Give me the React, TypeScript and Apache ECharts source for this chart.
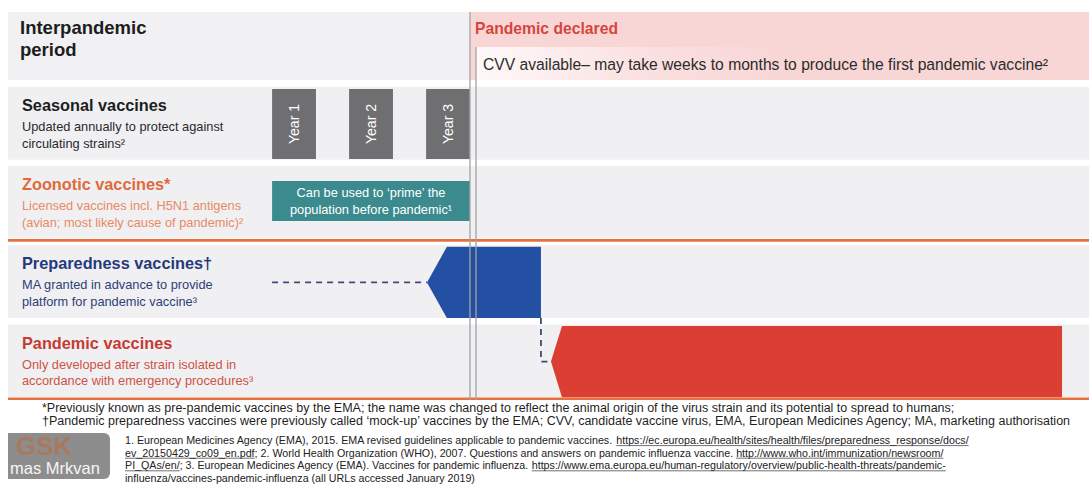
import React, { useEffect, useRef } from 'react';
import * as echarts from 'echarts';

// ---------------- data ----------------
const PHASE_LABELS = ['Interpandemic\nperiod', 'Pandemic declared'];
const CVV_NOTE = 'CVV available– may take weeks to months to produce the first pandemic vaccine²';
const ROW_CATEGORIES = ['Phase', 'Seasonal vaccines', 'Zoonotic vaccines*', 'Preparedness vaccines†', 'Pandemic vaccines'];
const ROW_NOTES = [
  [],
  ['Updated annually to protect against', 'circulating strains²'],
  ['Licensed vaccines incl. H5N1 antigens', '(avian; most likely cause of pandemic)²'],
  ['MA granted in advance to provide', 'platform for pandemic vaccine³'],
  ['Only developed after strain isolated in', 'accordance with emergency procedures³'],
];
// timeline, in years relative to the pandemic declaration (0)
const TIME_MIN = -6;
const TIME_MAX = 8.04;
const PANDEMIC_DECLARED = 0;
const CVV_AVAILABLE = 0.078;
const YEAR_LABELS = ['Year 1', 'Year 2', 'Year 3'];
const YEAR_START = [-2.57, -1.57, -0.57];
const YEAR_END = [-2.0, -1.0, 0];
const PRIME_WINDOW = [-2.57, 0];
const PRIME_TEXT = ['Can be used to ‘prime’ the', 'population before pandemic¹'];
const PREP_WAIT = [-2.57, -0.558];
const PREP_BAR = [-0.558, -0.3, 0.922]; // tip, shoulder, end
const PANDEMIC_BAR = [1.052, 1.195, 7.69]; // tip, shoulder, end
const DIVIDER_ROWS = [2, 4];
const FOOTNOTES = [
  '*Previously known as pre-pandemic vaccines by the EMA; the name was changed to reflect the animal origin of the virus strain and its potential to spread to humans;',
  '†Pandemic preparedness vaccines were previously called ‘mock-up’ vaccines by the EMA; CVV, candidate vaccine virus, EMA, European Medicines Agency; MA, marketing authorisation',
];
const REFERENCES: [string, boolean][][] = [
  [
    ['1. European Medicines Agency (EMA), 2015. EMA revised guidelines applicable to pandemic vaccines. ', false],
    ['https://ec.europa.eu/health/sites/health/files/preparedness_response/docs/', true],
  ],
  [
    ['ev_20150429_co09_en.pdf', true],
    ['; 2. World Health Organization (WHO), 2007. Questions and answers on pandemic influenza vaccine. ', false],
    ['http://www.who.int/immunization/newsroom/', true],
  ],
  [
    ['PI_QAs/en/', true],
    ['; 3. European Medicines Agency (EMA). Vaccines for pandemic influenza. ', false],
    ['https://www.ema.europa.eu/human-regulatory/overview/public-health-threats/pandemic-', true],
  ],
  [['influenza/vaccines-pandemic-influenza (all URLs accessed January 2019)', false]],
];
const LOGO_TEXT = 'GSK';
const PRESENTER = 'mas Mrkvan';

// ---------------- styles ----------------
const FONT = '"Liberation Sans", Arial, Helvetica, sans-serif';
const ROW_BG = '#f0f0f2';
const PINK = '#f9d6d6';
const ORANGE_LINE = '#e6713f';
const TITLE_COLORS = ['#1d1d1d', '#1d1d1d', '#e1693b', '#26397a', '#c63b31'];
const NOTE_COLORS = ['#2a2a2a', '#2a2a2a', '#e98a62', '#2e3f78', '#cf5246'];
const ARROW_COLORS: Record<number, string> = { 3: '#2450a4', 4: '#db3f34' };

function txt(text: string, x: number, y: number, size: number, fill: string, weight = 'normal', extra: any = {}) {
  return {
    type: 'text',
    x,
    y,
    style: { text, fill, fontSize: size, fontFamily: FONT, fontWeight: weight, align: 'left', verticalAlign: 'middle', ...extra },
  };
}

function measure(text: string, size: number) {
  const ctx = document.createElement('canvas').getContext('2d')!;
  ctx.font = `${size}px "Liberation Sans", Arial, sans-serif`;
  return ctx.measureText(text).width;
}

function buildOption() {
  const bgRender = (params: any, api: any) => {
    const row = api.value(0);
    const [x0, cy] = api.coord([TIME_MIN, row]);
    const x1 = api.coord([TIME_MAX, row])[0];
    const band = api.size([0, 1])[1];
    const children: any[] = [];
    if (row === 0) {
      const xd = api.coord([PANDEMIC_DECLARED, row])[0];
      const xc = api.coord([CVV_AVAILABLE, row])[0];
      const top = cy - 0.414 * band;
      const bot = cy + 0.444 * band;
      const mid = cy + 0.028 * band;
      children.push({ type: 'rect', shape: { x: x0, y: top, width: xd - x0, height: bot - top }, style: { fill: '#f1f1f3' } });
      children.push({ type: 'rect', shape: { x: xd, y: top, width: x1 - xd, height: bot - top }, style: { fill: PINK } });
      children.push({
        type: 'rect',
        shape: { x: xc, y: mid, width: x1 - xc, height: bot - mid },
        style: {
          fill: new echarts.graphic.LinearGradient(0, 0, 1, 0, [
            { offset: 0, color: 'rgba(255,255,255,0.85)' },
            { offset: 0.28, color: 'rgba(255,255,255,0.25)' },
            { offset: 0.5, color: 'rgba(255,255,255,0)' },
          ]),
        },
      });
      const lines = PHASE_LABELS[0].split('\n');
      lines.forEach((l, i) => children.push(txt(l, x0 + 12, top + 15 + i * 22, 18.5, TITLE_COLORS[0], 'bold')));
      children.push(txt(PHASE_LABELS[1], xd + 5, top + 16, 15.7, '#d6453d', 'bold'));
      children.push(txt(CVV_NOTE, xc + 7, mid + 17, 15.65, '#2b2b2b'));
    } else {
      const top = cy - 0.47 * band;
      const bot = cy + 0.45 * band;
      children.push({ type: 'rect', shape: { x: x0, y: top, width: x1 - x0, height: bot - top }, style: { fill: ROW_BG } });
      children.push(txt(ROW_CATEGORIES[row], x0 + 14, cy - 19, 16.3, TITLE_COLORS[row], 'bold'));
      ROW_NOTES[row].forEach((n, i) => children.push(txt(n, x0 + 14, cy + 2.5 + i * 16.5, 12.8, NOTE_COLORS[row])));
      if (DIVIDER_ROWS.indexOf(row) >= 0) {
        children.push({ type: 'rect', shape: { x: x0, y: cy + 0.47 * band - 1.3, width: x1 - x0, height: 2.6 }, style: { fill: ORANGE_LINE } });
      }
    }
    return { type: 'group', children };
  };

  const yearRender = (params: any, api: any) => {
    const row = api.value(0);
    const [xa, cy] = api.coord([api.value(1), row]);
    const xb = api.coord([api.value(2), row])[0];
    const band = api.size([0, 1])[1];
    const h = 0.442 * band;
    return {
      type: 'group',
      children: [
        { type: 'rect', shape: { x: xa, y: cy - h, width: xb - xa, height: 2 * h }, style: { fill: '#6f6f71' } },
        {
          type: 'text',
          x: (xa + xb) / 2,
          y: cy,
          rotation: Math.PI / 2,
          style: { text: YEAR_LABELS[api.value(3)], fill: '#ffffff', fontSize: 14, fontFamily: FONT, align: 'center', verticalAlign: 'middle' },
        },
      ],
    };
  };

  const primeRender = (params: any, api: any) => {
    const row = api.value(0);
    const [xa, cy] = api.coord([api.value(1), row]);
    const xb = api.coord([api.value(2), row])[0];
    const band = api.size([0, 1])[1];
    const top = cy - 0.28 * band;
    const bot = cy + 0.225 * band;
    const cx = (xa + xb) / 2;
    return {
      type: 'group',
      children: [
        { type: 'rect', shape: { x: xa, y: top, width: xb - xa, height: bot - top }, style: { fill: '#3b8a8e' } },
        ...PRIME_TEXT.map((t, i) => txt(t, cx, top + 11.5 + i * 16.5, 12.8, '#ffffff', 'normal', { align: 'center' })),
      ],
    };
  };

  const arrowRender = (params: any, api: any) => {
    const row = api.value(0);
    const [xt, cy] = api.coord([api.value(1), row]);
    const xs = api.coord([api.value(2), row])[0];
    const xe = api.coord([api.value(3), row])[0];
    const band = api.size([0, 1])[1];
    const top = cy - 0.45 * band;
    const bot = cy + 0.45 * band;
    return {
      type: 'polygon',
      shape: { points: [[xt, cy], [xs, top], [xe, top], [xe, bot], [xs, bot]] },
      style: { fill: ARROW_COLORS[row] },
    };
  };

  const dashRender = (params: any, api: any) => {
    const row = api.value(0);
    const [xa, cy] = api.coord([api.value(1), row]);
    const xb = api.coord([api.value(2), row])[0];
    const band = api.size([0, 1])[1];
    const style = { stroke: '#3e4b78', lineWidth: 1.8, lineDash: [6, 5], fill: null };
    if (api.value(3) === 0) {
      return { type: 'polyline', shape: { points: [[xa, cy], [xb, cy]] }, style };
    }
    const nextCy = api.coord([api.value(2), row + 1])[1];
    return {
      type: 'polyline',
      shape: { points: [[xa, cy + 0.45 * band], [xa, nextCy], [xb, nextCy]] },
      style,
    };
  };

  const phaseLineRender = (params: any, api: any) => {
    const row = api.value(0);
    const [x, cy] = api.coord([api.value(1), row]);
    const band = api.size([0, 1])[1];
    const lastCy = api.coord([api.value(1), ROW_CATEGORIES.length - 1])[1];
    const y1 = api.value(2) === 0 ? cy - 0.414 * band : cy + 0.028 * band;
    return {
      type: 'line',
      shape: { x1: x, y1, x2: x, y2: lastCy + 0.485 * band },
      style: { stroke: '#a3a3a6', lineWidth: 1.3 },
    };
  };

  const common = { type: 'custom', coordinateSystem: 'cartesian2d', encode: { x: [1, 2], y: 0 }, silent: true, clip: false };

  // footnotes & references
  const graphics: any[] = [];
  FOOTNOTES.forEach((f, i) => graphics.push(txt(f, 42, 408 + i * 13, 12.5, '#1f1f1f')));
  const REF_SIZE = 10.7;
  REFERENCES.forEach((line, i) => {
    let x = 125;
    const y = 440 + i * 12.6;
    line.forEach(([seg, url]) => {
      const w = measure(seg, REF_SIZE);
      graphics.push(txt(seg, x, y, REF_SIZE, '#222222'));
      if (url) {
        graphics.push({ type: 'line', shape: { x1: x, y1: y + 5.6, x2: x + w, y2: y + 5.6 }, style: { stroke: '#333333', lineWidth: 0.7 } });
      }
      x += w;
    });
  });
  graphics.push({ type: 'rect', shape: { x: 8, y: 433, width: 102, height: 46, r: [0, 6, 6, 0] }, style: { fill: '#8d8d8d' } });
  graphics.push(txt(LOGO_TEXT, 16, 446, 26, 'rgba(190,108,60,0.6)', 'bold'));
  graphics.push(txt(PRESENTER, 10, 468, 16.5, '#f6f6f6'));

  return {
    animation: false,
    grid: { left: 8, right: 0, top: 5.2, height: 396 },
    xAxis: { type: 'value', min: TIME_MIN, max: TIME_MAX, show: false },
    yAxis: { type: 'category', data: ROW_CATEGORIES, inverse: true, show: false },
    series: [
      { ...common, name: 'rows', renderItem: bgRender, data: ROW_CATEGORIES.map((_, i) => [i, TIME_MIN, TIME_MAX]) },
      {
        ...common,
        name: 'seasonal',
        renderItem: yearRender,
        data: YEAR_LABELS.map((_, i) => [ROW_CATEGORIES.indexOf('Seasonal vaccines'), YEAR_START[i], YEAR_END[i], i]),
      },
      { ...common, name: 'prime', renderItem: primeRender, data: [[ROW_CATEGORIES.indexOf('Zoonotic vaccines*'), PRIME_WINDOW[0], PRIME_WINDOW[1]]] },
      {
        ...common,
        name: 'dashes',
        renderItem: dashRender,
        data: [
          [3, PREP_WAIT[0], PREP_WAIT[1], 0],
          [3, PREP_BAR[2], PANDEMIC_BAR[0], 1],
        ],
      },
      {
        ...common,
        name: 'vaccines',
        encode: { x: [1, 2, 3], y: 0 },
        renderItem: arrowRender,
        data: [
          [3, ...PREP_BAR],
          [4, ...PANDEMIC_BAR],
        ],
      },
      {
        ...common,
        name: 'phases',
        renderItem: phaseLineRender,
        data: [
          [0, PANDEMIC_DECLARED, 0],
          [0, CVV_AVAILABLE, 1],
        ],
      },
    ],
    graphic: graphics,
  };
}

export default function App() {
  const ref = useRef<HTMLDivElement>(null);
  useEffect(() => {
    if (!ref.current) return;
    const chart = echarts.init(ref.current, null, { renderer: 'svg' });
    chart.setOption(buildOption() as any);
    return () => chart.dispose();
  }, []);
  return <div ref={ref} style={{ position: 'fixed', left: 0, top: 0, width: 1089, height: 486, background: '#ffffff' }} />;
}
